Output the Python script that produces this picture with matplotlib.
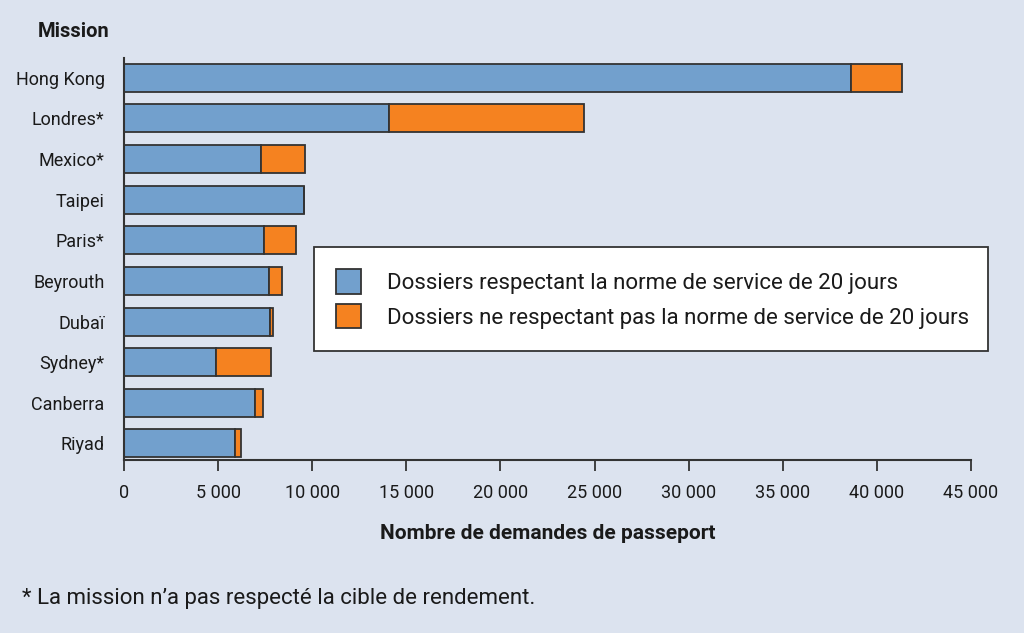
import matplotlib
matplotlib.use("Agg")
import matplotlib.pyplot as plt
from matplotlib.patches import Patch

plt.rcParams["font.family"] = ["Roboto", "DejaVu Sans"]

missions = ["Hong Kong", "Londres*", "Mexico*", "Taipei", "Paris*", "Beyrouth",
            "Dubaï", "Sydney*", "Canberra", "Riyad"]
meets = [38600, 14100, 7300, 9550, 7450, 7680, 7780, 4900, 6980, 5920]
misses = [2730, 10330, 2320, 0, 1670, 730, 130, 2890, 400, 270]
xticks = [0, 5000, 10000, 15000, 20000, 25000, 30000, 35000, 40000, 45000]
xticklabels = ["0", "5 000", "10 000", "15 000", "20 000", "25 000", "30 000",
               "35 000", "40 000", "45 000"]
legend_labels = ["Dossiers respectant la norme de service de 20 jours",
                 "Dossiers ne respectant pas la norme de service de 20 jours"]

BG = "#dce3ef"
BLUE = "#72a0cd"
ORANGE = "#f58220"
EDGE = "#333333"
TXT = "#1a1a1a"

fig = plt.figure(figsize=(10.24, 6.33), dpi=100, facecolor=BG)
ax = fig.add_axes([0.1211, 0.2733, 0.8271, 0.6351], facecolor=BG)

y = list(range(len(missions)))
ax.barh(y, meets, height=0.69, color=BLUE, edgecolor=EDGE, linewidth=1.3)
ax.barh(y, misses, left=meets, height=0.69, color=ORANGE, edgecolor=EDGE, linewidth=1.3)

ax.set_xlim(0, 45000)
ax.set_ylim(9.41, -0.49)
ax.set_yticks(y)
ax.set_yticklabels(missions, fontsize=13, color=TXT)
ax.tick_params(axis="y", length=0, pad=14)
ax.set_xticks(xticks)
ax.set_xticklabels(xticklabels, fontsize=13, color=TXT)
ax.tick_params(axis="x", length=8, width=1.3, color=EDGE, pad=9)
for s in ["top", "right"]:
    ax.spines[s].set_visible(False)
for s in ["left", "bottom"]:
    ax.spines[s].set_color(EDGE)
    ax.spines[s].set_linewidth(1.5)

ax.set_xlabel("Nombre de demandes de passeport", fontsize=15, fontweight="bold",
              color=TXT, labelpad=16)

fig.text(0.0371, 0.95, "Mission", fontsize=14.5, fontweight="bold", color=TXT,
         ha="left", va="center")
fig.text(0.0215, 0.055, "* La mission n\u2019a pas respecté la cible de rendement.",
         fontsize=16, color=TXT, ha="left", va="center")

handles = [Patch(facecolor=BLUE, edgecolor=EDGE, linewidth=1.3),
           Patch(facecolor=ORANGE, edgecolor=EDGE, linewidth=1.3)]
leg = fig.legend(handles, legend_labels, loc="center left",
                 bbox_to_anchor=(0.3066, 0.4439, 0.658, 0.1675),
                 bbox_transform=fig.transFigure, mode="expand",
                 fontsize=16, frameon=True, fancybox=False, borderpad=1.0,
                 handlelength=1.1, handleheight=1.3, handletextpad=1.2,
                 labelspacing=0.45, borderaxespad=0)
leg.get_frame().set_edgecolor(EDGE)
leg.get_frame().set_linewidth(1.3)
leg.get_frame().set_facecolor("white")
leg.get_frame().set_alpha(1)
for t in leg.get_texts():
    t.set_color(TXT)

fig.savefig("out.png", dpi=100, facecolor=BG)
